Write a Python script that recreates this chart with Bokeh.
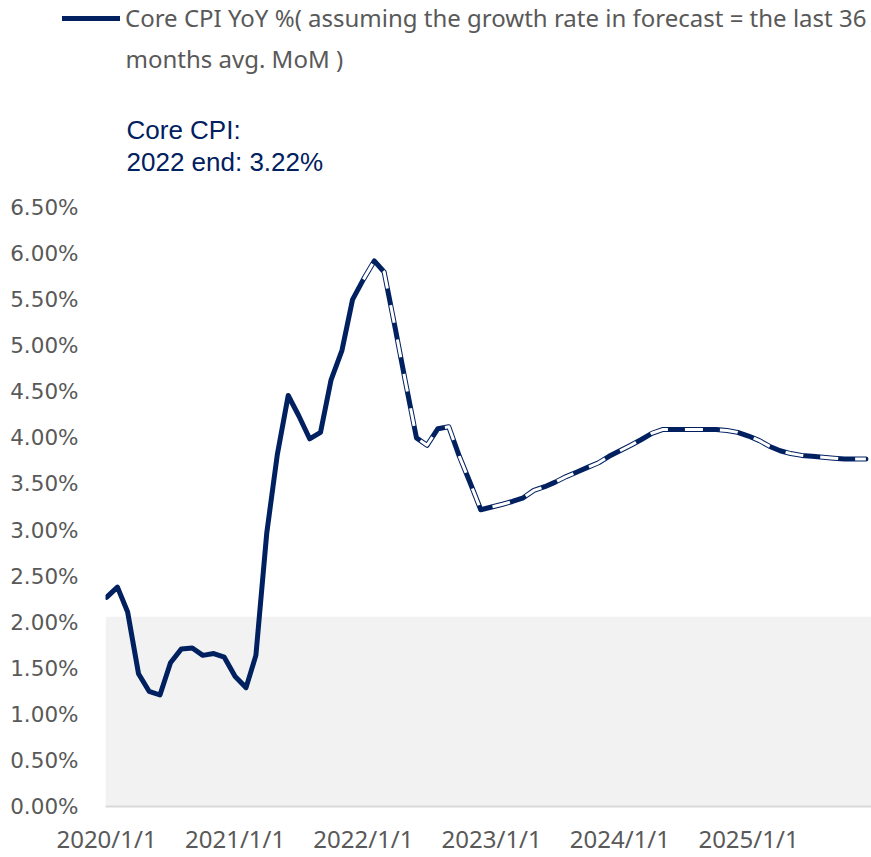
import pandas as pd
from bokeh.plotting import figure
from bokeh.layouts import column
from bokeh.models import (ColumnDataSource, Range1d, FixedTicker, PrintfTickFormatter,
                          CustomJSTickFormatter, Legend, LegendItem, Label)
from bokeh.embed import file_html
from bokeh.resources import INLINE

# ---------------- data ----------------
months = pd.date_range("2020-01-01", periods=72, freq="MS")
core_cpi_yoy = [
    2.27, 2.38, 2.11, 1.44, 1.25, 1.21, 1.56, 1.71, 1.72, 1.64, 1.66, 1.62,   # 2020
    1.41, 1.29, 1.64, 2.97, 3.82, 4.46, 4.24, 3.99, 4.06, 4.63, 4.95, 5.50,   # 2021
    5.72, 5.92, 5.80, 5.20, 4.60, 4.00, 3.92, 4.10, 4.12, 3.80, 3.51, 3.22,   # 2022
    3.25, 3.28, 3.31, 3.35, 3.43, 3.47, 3.52, 3.58, 3.63, 3.68, 3.73, 3.80,   # 2023
    3.86, 3.92, 3.98, 4.05, 4.09, 4.09, 4.09, 4.09, 4.09, 4.09, 4.08, 4.06,   # 2024
    4.02, 3.97, 3.91, 3.86, 3.83, 3.81, 3.80, 3.79, 3.78, 3.77, 3.77, 3.77,   # 2025
]
forecast_start = "2022-01-01"
target_band = [0.0, 2.06]
y_ticks = [0.0, 0.5, 1.0, 1.5, 2.0, 2.5, 3.0, 3.5, 4.0, 4.5, 5.0, 5.5, 6.0, 6.5]
x_tick_dates = ["2020-01-01", "2021-01-01", "2022-01-01", "2023-01-01", "2024-01-01", "2025-01-01"]
legend_line1 = "Core CPI YoY %( assuming the growth rate in forecast = the last 36"
legend_line2 = "months avg. MoM )"
note_line1 = "Core CPI:"
note_line2 = "2022 end: 3.22%"

NAVY = "#002060"
GREY_TXT = "#595959"

# ---------------- layout constants (page pixels; Bokeh's page has no body margin) ----------------
W, H = 871, 857
HEAD_H = 190
FRAME_TOP = 207
FRAME_BOT = 808
FRAME_LEFT = 105
MAIN_H = H - HEAD_H

df = pd.DataFrame({"date": months, "v": core_cpi_yoy})

# ---------------- header figure (legend + note) ----------------
head = figure(width=W, height=HEAD_H, output_backend="svg", toolbar_location=None,
              x_range=Range1d(0, 1), y_range=Range1d(0, 1),
              x_axis_location=None, y_axis_location=None,
              min_border_left=0, min_border_right=0, min_border_top=0, min_border_bottom=0)
head.frame_align = False
head.outline_line_color = None
head.xgrid.visible = False
head.ygrid.visible = False
# same series, outside the header's ranges: only its legend sample is seen
legend_proxy = head.line("date", "v", source=ColumnDataSource(df), line_color=NAVY,
                         line_width=5, line_cap="round")

LEG_H = 28
legend = Legend(items=[LegendItem(label=legend_line1, renderers=[legend_proxy])],
                location=(62, HEAD_H - (6 + LEG_H)), orientation="vertical",
                border_line_color=None, background_fill_alpha=0,
                padding=0, margin=0, spacing=0,
                glyph_width=58, glyph_height=LEG_H, label_standoff=5,
                label_text_font="Noto Sans", label_text_font_size="24px",
                label_text_color=GREY_TXT, label_height=LEG_H)
head.add_layout(legend, "center")

def lab(text, x_page, y_page, font, size, color):
    return Label(x=x_page, y=HEAD_H - y_page, x_units="screen", y_units="screen",
                 text=text, text_font=font, text_font_size=size,
                 text_color=color, text_baseline="middle")

head.add_layout(lab(legend_line2, 125, 58, "Noto Sans", "24px", GREY_TXT))
head.add_layout(lab(note_line1, 126, 129, "Liberation Sans", "26px", NAVY))
head.add_layout(lab(note_line2, 126, 161, "Liberation Sans", "26px", NAVY))

# ---------------- main chart ----------------
src_all = ColumnDataSource(df)
src_fc = ColumnDataSource(df[df["date"] >= pd.Timestamp(forecast_start)])

x0 = pd.Timestamp("2019-12-29")
x1 = pd.Timestamp("2025-12-17")

p = figure(width=W, height=MAIN_H, output_backend="svg", toolbar_location=None,
           x_axis_type="datetime",
           x_range=Range1d(x0, x1), y_range=Range1d(y_ticks[0], y_ticks[-1]),
           min_border_left=FRAME_LEFT, min_border_right=0,
           min_border_top=FRAME_TOP - HEAD_H,
           min_border_bottom=H - FRAME_BOT)
p.frame_align = False
p.outline_line_color = None
p.xgrid.visible = False
p.ygrid.visible = False

# grey band
p.quad(left=[x0], right=[x1], bottom=[target_band[0]], top=[target_band[1]],
       fill_color="#F2F2F2", line_color=None)

main = p.line("date", "v", source=src_all, line_color=NAVY, line_width=5,
              line_join="round", line_cap="round")
p.line("date", "v", source=src_fc, line_color="white", line_width=3,
       line_dash="18 17", line_join="round")

p.yaxis.ticker = FixedTicker(ticks=y_ticks)
p.yaxis.formatter = PrintfTickFormatter(format="%.2f%%")
p.yaxis.axis_line_color = None
p.yaxis.major_tick_line_color = None
p.yaxis.minor_tick_line_color = None
p.yaxis.major_tick_out = 0
p.yaxis.minor_tick_out = 0
p.yaxis.major_label_standoff = 27
p.yaxis.major_label_text_font = "DejaVu Sans"
p.yaxis.major_label_text_font_size = "21.5px"
p.yaxis.major_label_text_color = GREY_TXT

p.xaxis.ticker = FixedTicker(ticks=[pd.Timestamp(d).value / 1e6 for d in x_tick_dates])
p.xaxis.formatter = CustomJSTickFormatter(code="""
const d = new Date(tick);
return d.getUTCFullYear() + '/' + (d.getUTCMonth() + 1) + '/' + d.getUTCDate();
""")
p.xaxis.axis_line_color = "#D9D9D9"
p.xaxis.axis_line_width = 2
p.xaxis.major_tick_line_color = None
p.xaxis.minor_tick_line_color = None
p.xaxis.major_tick_out = 0
p.xaxis.minor_tick_out = 0
p.xaxis.major_label_standoff = 15
p.xaxis.major_label_text_font = "Noto Sans"
p.xaxis.major_label_text_font_size = "24px"
p.xaxis.major_label_text_color = GREY_TXT

layout = column(head, p, spacing=0)
open("out.html", "w").write(file_html(layout, INLINE))
